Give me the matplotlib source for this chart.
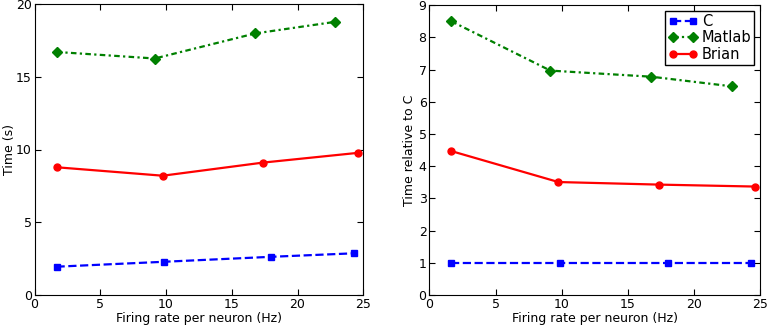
import numpy as np
import matplotlib.pyplot as plt

# Data
rate_c = [1.67, 9.87, 18.0, 24.27]
time_c = [1.95, 2.29, 2.63, 2.87]
rate_matlab = [1.67, 9.14, 16.77, 22.88]
time_matlab = [16.7, 16.25, 17.97, 18.77]
rate_brian = [1.67, 9.75, 17.37, 24.6]
time_brian = [8.78, 8.2, 9.1, 9.77]

rel_c = [1.0, 1.0, 1.0, 1.0]
rel_matlab = [8.5, 6.97, 6.78, 6.48]
rel_brian = [4.47, 3.51, 3.43, 3.37]

plt.rcParams['font.family'] = 'DejaVu Sans'
plt.rcParams['font.size'] = 9
plt.rcParams['xtick.direction'] = 'in'
plt.rcParams['ytick.direction'] = 'in'
plt.rcParams['xtick.top'] = True
plt.rcParams['ytick.right'] = True

fig = plt.figure(figsize=(7.68, 3.25), dpi=100)
ax1 = fig.add_axes([0.045, 0.092, 0.428, 0.896])
ax2 = fig.add_axes([0.559, 0.092, 0.431, 0.892])

ms = 5
dd = (2.5, 1.5, 1, 1.5)
for ax, yc, ym, yb in ((ax1, time_c, time_matlab, time_brian),
                       (ax2, rel_c, rel_matlab, rel_brian)):
    ax.plot(rate_c, yc, 'bs--', ms=ms, lw=1.6, label='C')
    ax.plot(rate_matlab, ym, 'gD-.', ms=ms, lw=1.6, dashes=dd, label='Matlab')
    ax.plot(rate_brian, yb, 'ro-', ms=ms, lw=1.6, label='Brian')
    ax.set_xlim(0, 25)
    ax.set_xlabel('Firing rate per neuron (Hz)', labelpad=1)
    ax.tick_params(length=4, pad=2)
    for s in ax.spines.values():
        s.set_linewidth(0.8)

ax1.set_ylim(0, 20)
ax1.set_yticks([0, 5, 10, 15, 20])
ax1.set_ylabel('Time (s)', labelpad=0)

ax2.set_ylim(0, 9)
ax2.set_ylabel('Time relative to C', labelpad=2)
ax2.legend(loc='upper right', numpoints=2, fancybox=False, fontsize=10.5,
           handlelength=2.0, handletextpad=0.3, borderpad=0.2, labelspacing=0.1,
           borderaxespad=0.4, framealpha=1, edgecolor='black')

fig.savefig('out.png', dpi=100)
